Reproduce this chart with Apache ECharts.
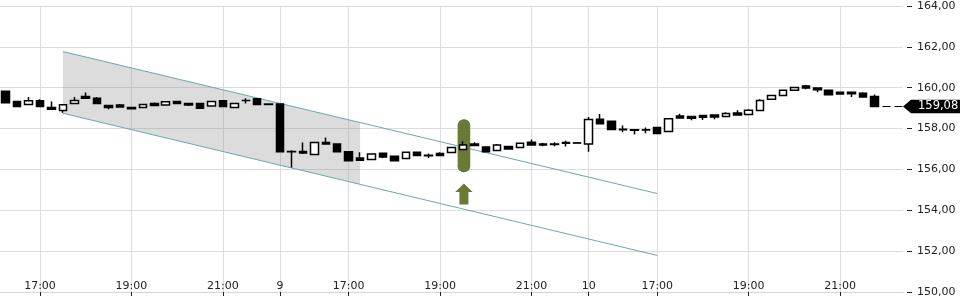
<!DOCTYPE html>
<html>
<head>
<meta charset="utf-8">
<script src="https://cdn.jsdelivr.net/npm/echarts@6/dist/echarts.min.js"></script>
<style>
html,body{margin:0;padding:0;background:#fff;}
#chart{width:960px;height:300px;}
</style>
</head>
<body>
<div id="chart"></div>
<script>
// ---- data ----
const days = ['8', '9', '10', '11'];
const sessionTimes = ['15:30','15:45','16:00','16:15','16:30','16:45','17:00','17:15','17:30','17:45','18:00','18:15','18:30','18:45','19:00','19:15','19:30','19:45','20:00','20:15','20:30','20:45','21:00','21:15','21:30','21:45','22:00'];
const labelTimes = ['17:00', '19:00', '21:00'];

const opens  = [159.83,159.33,159.18,159.36,159.03,158.89,159.23,159.57,159.48,159.13,159.15,159.03,159.03,159.23,159.15,159.33,159.23,159.23,159.10,159.36,159.03,159.38,159.46,159.20,
                159.20,156.88,156.88,156.73,157.32,157.24,156.86,156.56,156.49,156.79,156.65,156.53,156.84,156.69,156.78,156.83,156.98,157.25,157.10,156.93,157.12,157.07,157.33,157.24,157.24,157.32,157.30,
                157.25,158.46,158.36,157.97,157.94,157.94,158.05,157.86,158.61,158.59,158.64,158.66,158.59,158.76,158.69,158.89,159.43,159.62,159.87,160.08,159.98,159.88,159.78,159.78,159.73,159.57];
const closes = [159.26,159.08,159.36,159.08,158.94,159.16,159.38,159.48,159.23,159.03,159.05,158.97,159.18,159.13,159.31,159.23,159.15,159.00,159.33,159.08,159.23,159.37,159.18,159.18,
                156.86,156.86,156.80,157.32,157.24,156.86,156.42,156.45,156.75,156.61,156.42,156.84,156.68,156.67,156.68,157.07,157.19,157.17,156.86,157.19,157.00,157.28,157.20,157.20,157.22,157.28,157.29,
                158.45,158.23,157.96,157.94,157.92,157.93,157.76,158.48,158.52,158.51,158.56,158.57,158.74,158.67,158.90,159.38,159.62,159.87,160.01,159.99,159.90,159.65,159.69,159.70,159.55,159.08];
const lows   = [159.26,159.08,159.18,159.08,158.94,158.77,159.23,159.48,159.23,158.94,159.05,158.94,158.99,159.13,159.15,159.23,159.10,158.97,159.10,159.08,159.03,159.23,159.18,159.18,
                156.86,156.09,156.75,156.73,157.24,156.86,156.42,156.45,156.49,156.56,156.42,156.53,156.68,156.56,156.68,156.83,156.98,157.15,156.86,156.93,157.00,157.07,157.20,157.14,157.14,157.12,157.29,
                156.86,158.23,157.96,157.82,157.71,157.77,157.76,157.86,158.48,158.41,158.42,158.46,158.59,158.67,158.69,158.89,159.43,159.62,159.87,159.93,159.78,159.65,159.69,159.55,159.55,159.08];
const highs  = [159.83,159.33,159.54,159.43,159.33,159.16,159.55,159.77,159.54,159.13,159.20,159.03,159.18,159.28,159.31,159.33,159.23,159.23,159.33,159.36,159.23,159.49,159.46,159.20,
                159.20,156.94,157.32,157.32,157.56,157.24,156.86,156.84,156.75,156.79,156.65,156.84,156.84,156.78,156.84,157.07,157.38,157.33,157.10,157.25,157.12,157.28,157.47,157.30,157.33,157.40,157.30,
                158.57,158.71,158.36,158.15,157.94,158.05,158.05,158.48,158.72,158.59,158.64,158.66,158.80,158.90,158.95,159.43,159.62,159.87,160.01,160.13,159.98,159.88,159.78,159.78,159.78,159.67];

const yMin = 150, yMax = 164, yStep = 2;
const lastPrice = 159.08;

// trend channel (category indices, 0-based) and its price ends
const channelIdx = [5, 57];
const channelUpper = [161.77, 154.82];
const channelLower = [158.75, 151.79];
const shadeEndIdx = 31;

// signal marker
const signalIdx = 40;
const signalRange = [155.86, 158.46];
const arrowRange = [154.28, 155.31];

// ---- categories ----
const categories = [];
days.forEach((d) => {
  sessionTimes.forEach((t) => {
    categories.push(d + ' ' + t);
  });
});
// visible window: day 8 from 16:15 ... first slot of day 11
const startCat = categories.indexOf('8 16:15');
const visibleCats = categories.slice(startCat, startCat + 79);

function isLabeled(i, val) {
  if (i >= opens.length) return false;
  const parts = val.split(' ');
  return parts[1] === '15:30' || labelTimes.indexOf(parts[1]) >= 0;
}
function labelText(val) {
  const parts = val.split(' ');
  return parts[1] === '15:30' ? parts[0] : parts[1];
}
const fmt = v => v.toFixed(2).replace('.', ',');

const candleData = opens.map((o, i) => [o, closes[i], lows[i], highs[i]]);

const teal = '#6aa9b0';
const olive = '#687a36';

const chart = echarts.init(document.getElementById('chart'), null, {renderer: 'canvas'});
chart.setOption({
  animation: false,
  backgroundColor: '#fff',
  textStyle: {fontFamily: 'DejaVu Sans'},
  grid: {left: 0, right: 57, top: 6, bottom: 8, containLabel: false},
  xAxis: {
    type: 'category',
    data: visibleCats,
    boundaryGap: true,
    axisLine: {show: true, lineStyle: {color: '#d6d6d6', width: 1}},
    axisTick: {show: true, alignWithLabel: true, inside: false, length: 4,
      interval: (i, v) => isLabeled(i, v), lineStyle: {color: '#222'}},
    axisLabel: {show: true, inside: true, margin: 0, interval: (i, v) => isLabeled(i, v),
      formatter: v => labelText(v), color: '#222', fontSize: 11, fontFamily: 'DejaVu Sans'},
    splitLine: {show: true, alignWithLabel: true, interval: (i, v) => isLabeled(i, v),
      lineStyle: {color: '#dcdcdc', width: 1}}
  },
  yAxis: {
    type: 'value',
    position: 'right',
    min: yMin, max: yMax, interval: yStep,
    offset: 4,
    axisLine: {show: false},
    axisTick: {show: true, length: 5, lineStyle: {color: '#222'}},
    axisLabel: {margin: 10, color: '#222', fontSize: 11, fontFamily: 'DejaVu Sans', formatter: v => fmt(v)},
    splitLine: {show: true, lineStyle: {color: '#dcdcdc', width: 1}}
  },
  series: [
    {
      type: 'custom',
      name: 'channel',
      z: 1,
      silent: true,
      data: [[0]],
      renderItem: (params, api) => {
        const u0 = api.coord([channelIdx[0], channelUpper[0]]);
        const u1 = api.coord([channelIdx[1], channelUpper[1]]);
        const l0 = api.coord([channelIdx[0], channelLower[0]]);
        const l1 = api.coord([channelIdx[1], channelLower[1]]);
        const frac = (shadeEndIdx - channelIdx[0]) / (channelIdx[1] - channelIdx[0]);
        const uS = [u0[0] + (u1[0] - u0[0]) * frac, u0[1] + (u1[1] - u0[1]) * frac];
        const lS = [l0[0] + (l1[0] - l0[0]) * frac, l0[1] + (l1[1] - l0[1]) * frac];
        return {
          type: 'group',
          children: [
            {type: 'polygon', shape: {points: [u0, uS, lS, l0]}, style: {fill: 'rgba(150,150,150,0.33)'}},
            {type: 'line', shape: {x1: u0[0], y1: u0[1], x2: u1[0], y2: u1[1]}, style: {stroke: teal, lineWidth: 1}},
            {type: 'line', shape: {x1: l0[0], y1: l0[1], x2: l1[0], y2: l1[1]}, style: {stroke: teal, lineWidth: 1}}
          ]
        };
      }
    },
    {
      type: 'custom',
      name: 'signal',
      z: 2,
      silent: true,
      data: [[0]],
      renderItem: (params, api) => {
        const top = api.coord([signalIdx, signalRange[1]]);
        const bot = api.coord([signalIdx, signalRange[0]]);
        const aT = api.coord([signalIdx, arrowRange[1]]);
        const aB = api.coord([signalIdx, arrowRange[0]]);
        const cx = top[0] + 1;
        const w = 12.6;
        const headH = (aB[1] - aT[1]) * 0.4;
        return {
          type: 'group',
          children: [
            {type: 'rect', shape: {x: cx - w / 2, y: top[1], width: w, height: bot[1] - top[1], r: 6}, style: {fill: olive}},
            {type: 'polygon', shape: {points: [
              [cx, aT[1]], [cx + 8.7, aT[1] + headH], [cx + 4.5, aT[1] + headH], [cx + 4.5, aB[1]],
              [cx - 4.5, aB[1]], [cx - 4.5, aT[1] + headH], [cx - 8.7, aT[1] + headH]]}, style: {fill: olive}}
          ]
        };
      }
    },
    {
      type: 'candlestick',
      name: 'price',
      z: 3,
      barWidth: 8,
      data: candleData,
      itemStyle: {color: '#ffffff', color0: '#000000', borderColor: '#000000', borderColor0: '#000000', borderWidth: 1.5}
    },
    {
      type: 'custom',
      name: 'last',
      z: 5,
      silent: true,
      data: [[0]],
      renderItem: (params, api) => {
        const cs = params.coordSys;
        const right = cs.x + cs.width;
        const y = api.coord([opens.length, lastPrice])[1];
        const startX = api.coord([opens.length - 1, lastPrice])[0] + 8;
        const W = api.getWidth();
        return {
          type: 'group',
          children: [
            {type: 'line', shape: {x1: startX, y1: y, x2: right, y2: y}, style: {stroke: '#000', lineWidth: 1, lineDash: [8, 4]}},
            {type: 'polygon', shape: {points: [[right, y], [right + 8, y - 6.8], [W, y - 6.8], [W, y + 6.8], [right + 8, y + 6.8]]}, style: {fill: '#000'}},
            {type: 'text', style: {text: fmt(lastPrice), x: right + 15, y: y, verticalAlign: 'middle', align: 'left', fill: '#fff', font: '11.5px "DejaVu Sans"'}}
          ]
        };
      }
    }
  ]
});
</script>
</body>
</html>
